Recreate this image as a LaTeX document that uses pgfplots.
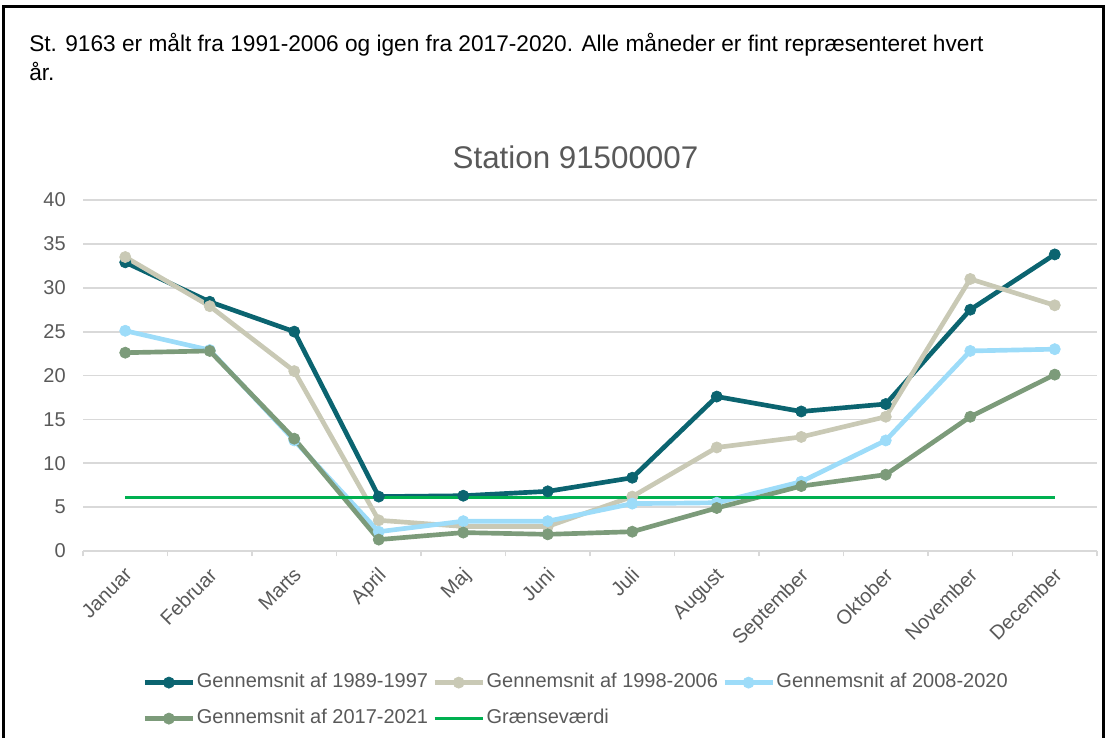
\documentclass[border=0pt]{standalone}
\usepackage{fontspec}
\setmainfont{Liberation Sans}
\usepackage{pgfplots}
\pgfplotsset{compat=1.18}
\definecolor{cteal}{HTML}{0B6470}
\definecolor{cbeige}{HTML}{C9C9B5}
\definecolor{cblue}{HTML}{9DDCF9}
\definecolor{cgreen}{HTML}{7C9B7A}
\definecolor{cthr}{HTML}{00B050}
\definecolor{ctext}{HTML}{595959}
\definecolor{cgrid}{HTML}{D9D9D9}
\begin{document}
\begin{tikzpicture}
\useasboundingbox (0,0) rectangle (829.5pt,-553.5pt);
\draw[line width=2.25pt] (2.25pt,-553.5pt) -- (2.25pt,-5.25pt) -- (827.25pt,-5.25pt) -- (827.25pt,-553.5pt);
\node[anchor=base west, inner sep=0pt, font=\fontsize{17}{20}\selectfont] at (21.75pt,-38.75pt) {St. 9163 er målt fra 1991-2006 og igen fra 2017-2020. Alle måneder er fint repræsenteret hvert};
\node[anchor=base west, inner sep=0pt, font=\fontsize{17}{20}\selectfont] at (21.75pt,-60.5pt) {år.};
\node[font=\fontsize{23.5}{28}\selectfont, text=ctext, inner sep=0pt] at (431.6pt,-117.75pt) {Station 91500007};
\begin{axis}[
  at={(62.25pt,-413.25pt)}, anchor=south west,
  scale only axis, width=760.5pt, height=263.25pt,
  xmin=-0.5, xmax=11.5, ymin=0, ymax=40,
  xtick={0,...,11},
  xticklabels={Januar,Februar,Marts,April,Maj,Juni,Juli,August,September,Oktober,November,December},
  minor xtick={-0.5,0.5,...,11.5},
  ytick={0,5,...,40},
  ymajorgrids, major grid style={cgrid, line width=1.3pt},
  axis x line*=bottom, axis y line*=left,
  x axis line style={cgrid, line width=1.3pt, -},
  y axis line style={draw=none},
  major tick length=0pt, minor tick length=4pt, tick align=outside,
  minor tick style={cgrid, line width=1pt},
  tick label style={font=\fontsize{15}{18}\selectfont, text=ctext},
  /pgf/number format/assume math mode=true,
  xticklabel style={rotate=45, anchor=north east, inner sep=0pt, xshift=-9pt, yshift=-7pt},
  yticklabel style={anchor=east, inner sep=0pt, xshift=-12.75pt},
  legend columns=3,
  legend cell align=left,
  legend image code/.code={\draw[mark repeat=2,mark phase=2] plot coordinates {(0pt,0pt) (18pt,0pt) (36pt,0pt)};},
  legend style={at={(0.0585,-0.3476)}, anchor=north west, draw=none, fill=none, inner sep=0pt,
    font=\fontsize{15}{18}\selectfont, text=ctext,
    nodes={inner xsep=1.2pt, inner ysep=0pt, text height=11pt, text depth=3pt},
    row sep=13pt,
    /tikz/every even column/.append style={column sep=2pt}},
  every axis plot/.append style={line width=3.5pt, mark size=4.2pt, mark options={solid, line width=0.5pt}},
]
\addplot[cteal, mark=*] coordinates {
(0,32.9) (1,28.4) (2,25.0) (3,6.2) (4,6.3) (5,6.8) (6,8.35) (7,17.6) (8,15.9) (9,16.75) (10,27.5) (11,33.8)};
\addlegendentry{Gennemsnit af 1989-1997}
\addplot[cbeige, mark=*] coordinates {
(0,33.5) (1,27.9) (2,20.5) (3,3.5) (4,2.8) (5,2.8) (6,6.2) (7,11.8) (8,13.0) (9,15.3) (10,31.0) (11,28.0)};
\addlegendentry{Gennemsnit af 1998-2006}
\addplot[cblue, mark=*] coordinates {
(0,25.1) (1,22.9) (2,12.6) (3,2.2) (4,3.4) (5,3.4) (6,5.4) (7,5.5) (8,7.9) (9,12.6) (10,22.8) (11,23.0)};
\addlegendentry{Gennemsnit af 2008-2020}
\addplot[cgreen, mark=*] coordinates {
(0,22.6) (1,22.8) (2,12.8) (3,1.3) (4,2.1) (5,1.9) (6,2.2) (7,4.9) (8,7.4) (9,8.7) (10,15.3) (11,20.1)};
\addlegendentry{Gennemsnit af 2017-2021}
\addplot[cthr, line width=2.25pt] coordinates {(0,6.1) (11,6.1)};
\addlegendentry{Grænseværdi}
\end{axis}
\end{tikzpicture}
\end{document}
